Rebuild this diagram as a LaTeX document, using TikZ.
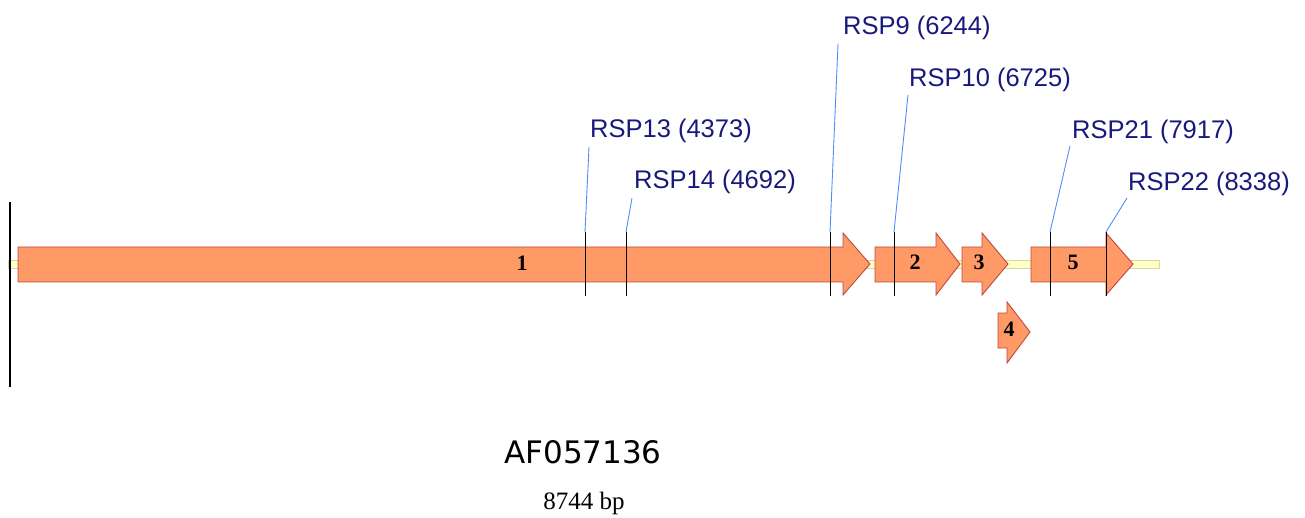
\documentclass[tikz,border=0pt]{standalone}
\usepackage{fontspec}
\setmainfont{Liberation Serif}
\newfontfamily\arialfont{Liberation Sans}
\newfontfamily\verdfont{DejaVu Sans}
\definecolor{genefill}{RGB}{255,153,102}
\definecolor{geneedge}{RGB}{185,75,65}
\definecolor{bbfill}{RGB}{255,255,200}
\definecolor{bbedge}{RGB}{215,215,160}
\definecolor{leadblue}{RGB}{80,140,255}
\definecolor{rspblue}{RGB}{25,25,125}
\tikzset{
  gene/.style={fill=genefill, draw=geneedge, line width=0.9pt, line join=miter},
  backbone/.style={fill=bbfill, draw=bbedge, line width=0.8pt},
  site/.style={draw=black, line width=1pt},
  leader/.style={draw=leadblue, line width=0.9pt},
  rsplbl/.style={font=\arialfont\fontsize{25.5}{28}\selectfont, text=rspblue, inner sep=0pt, anchor=west},
  genenum/.style={font=\bfseries\fontsize{22}{24}\selectfont, inner sep=0pt},
}
\begin{document}
\begin{tikzpicture}[x=1pt,y=-1pt]
\useasboundingbox (0,0) rectangle (1305,518);
% backbone
\draw[backbone] (8,260) rectangle (1159,268);
% left marker line
\draw[line width=2pt] (10,202) -- (10,387);
% genes
\draw[gene] (18,247) -- (843,247) -- (843,233) -- (870,264) -- (843,295) -- (843,282) -- (18,282) -- cycle;
\draw[gene] (875,247) -- (936,247) -- (936,233) -- (960,264) -- (936,295) -- (936,282) -- (875,282) -- cycle;
\draw[gene] (962,247) -- (982,247) -- (982,233) -- (1008,264) -- (982,295) -- (982,282) -- (962,282) -- cycle;
\draw[gene] (1031,247) -- (1106,247) -- (1106,233) -- (1133,264) -- (1106,295) -- (1106,282) -- (1031,282) -- cycle;
\draw[gene] (998,313) -- (1007,313) -- (1007,302) -- (1030,332) -- (1007,363) -- (1007,348) -- (998,348) -- cycle;
% gene numbers
\node[genenum] (g1) at (522,263) {1};
\node[genenum] (g2) at (915,262) {2};
\node[genenum] (g3) at (979,262) {3};
\node[genenum] (g4) at (1009,329) {4};
\node[genenum] (g5) at (1073,262) {5};
% site coordinates
\foreach \n/\x in {13/585,14/626,9/830,10/894,21/1050,22/1106}{
  \coordinate (s\n) at (\x,232);
  \coordinate (b\n) at (\x,296);
}
\foreach \n in {13,14,9,10,21,22}{ \draw[site] (s\n) -- (b\n); }
% labels
\node[rsplbl] (r13) at (590,131) {RSP13 (4373)};
\node[rsplbl] (r14) at (634,182) {RSP14 (4692)};
\node[rsplbl] (r9)  at (843,28)  {RSP9 (6244)};
\node[rsplbl] (r10) at (909,80)  {RSP10 (6725)};
\node[rsplbl] (r21) at (1072,132) {RSP21 (7917)};
\node[rsplbl] (r22) at (1128,184) {RSP22 (8338)};
% leader tops
\coordinate (t13) at (589,147);
\coordinate (t14) at (632,198);
\coordinate (t9)  at (838,44);
\coordinate (t10) at (908,95);
\coordinate (t21) at (1070,146);
\coordinate (t22) at (1127,198);
\foreach \n in {13,14,9,10,21,22}{ \draw[leader] (s\n) -- (t\n); }
% title
\node[font=\verdfont\fontsize{31}{34}\selectfont, inner sep=0pt] (title) at (583,452) {AF057136};
\node[font=\fontsize{25}{28}\selectfont, inner sep=0pt] (bp) at (584,503) {8744 bp};
\end{tikzpicture}
\end{document}
